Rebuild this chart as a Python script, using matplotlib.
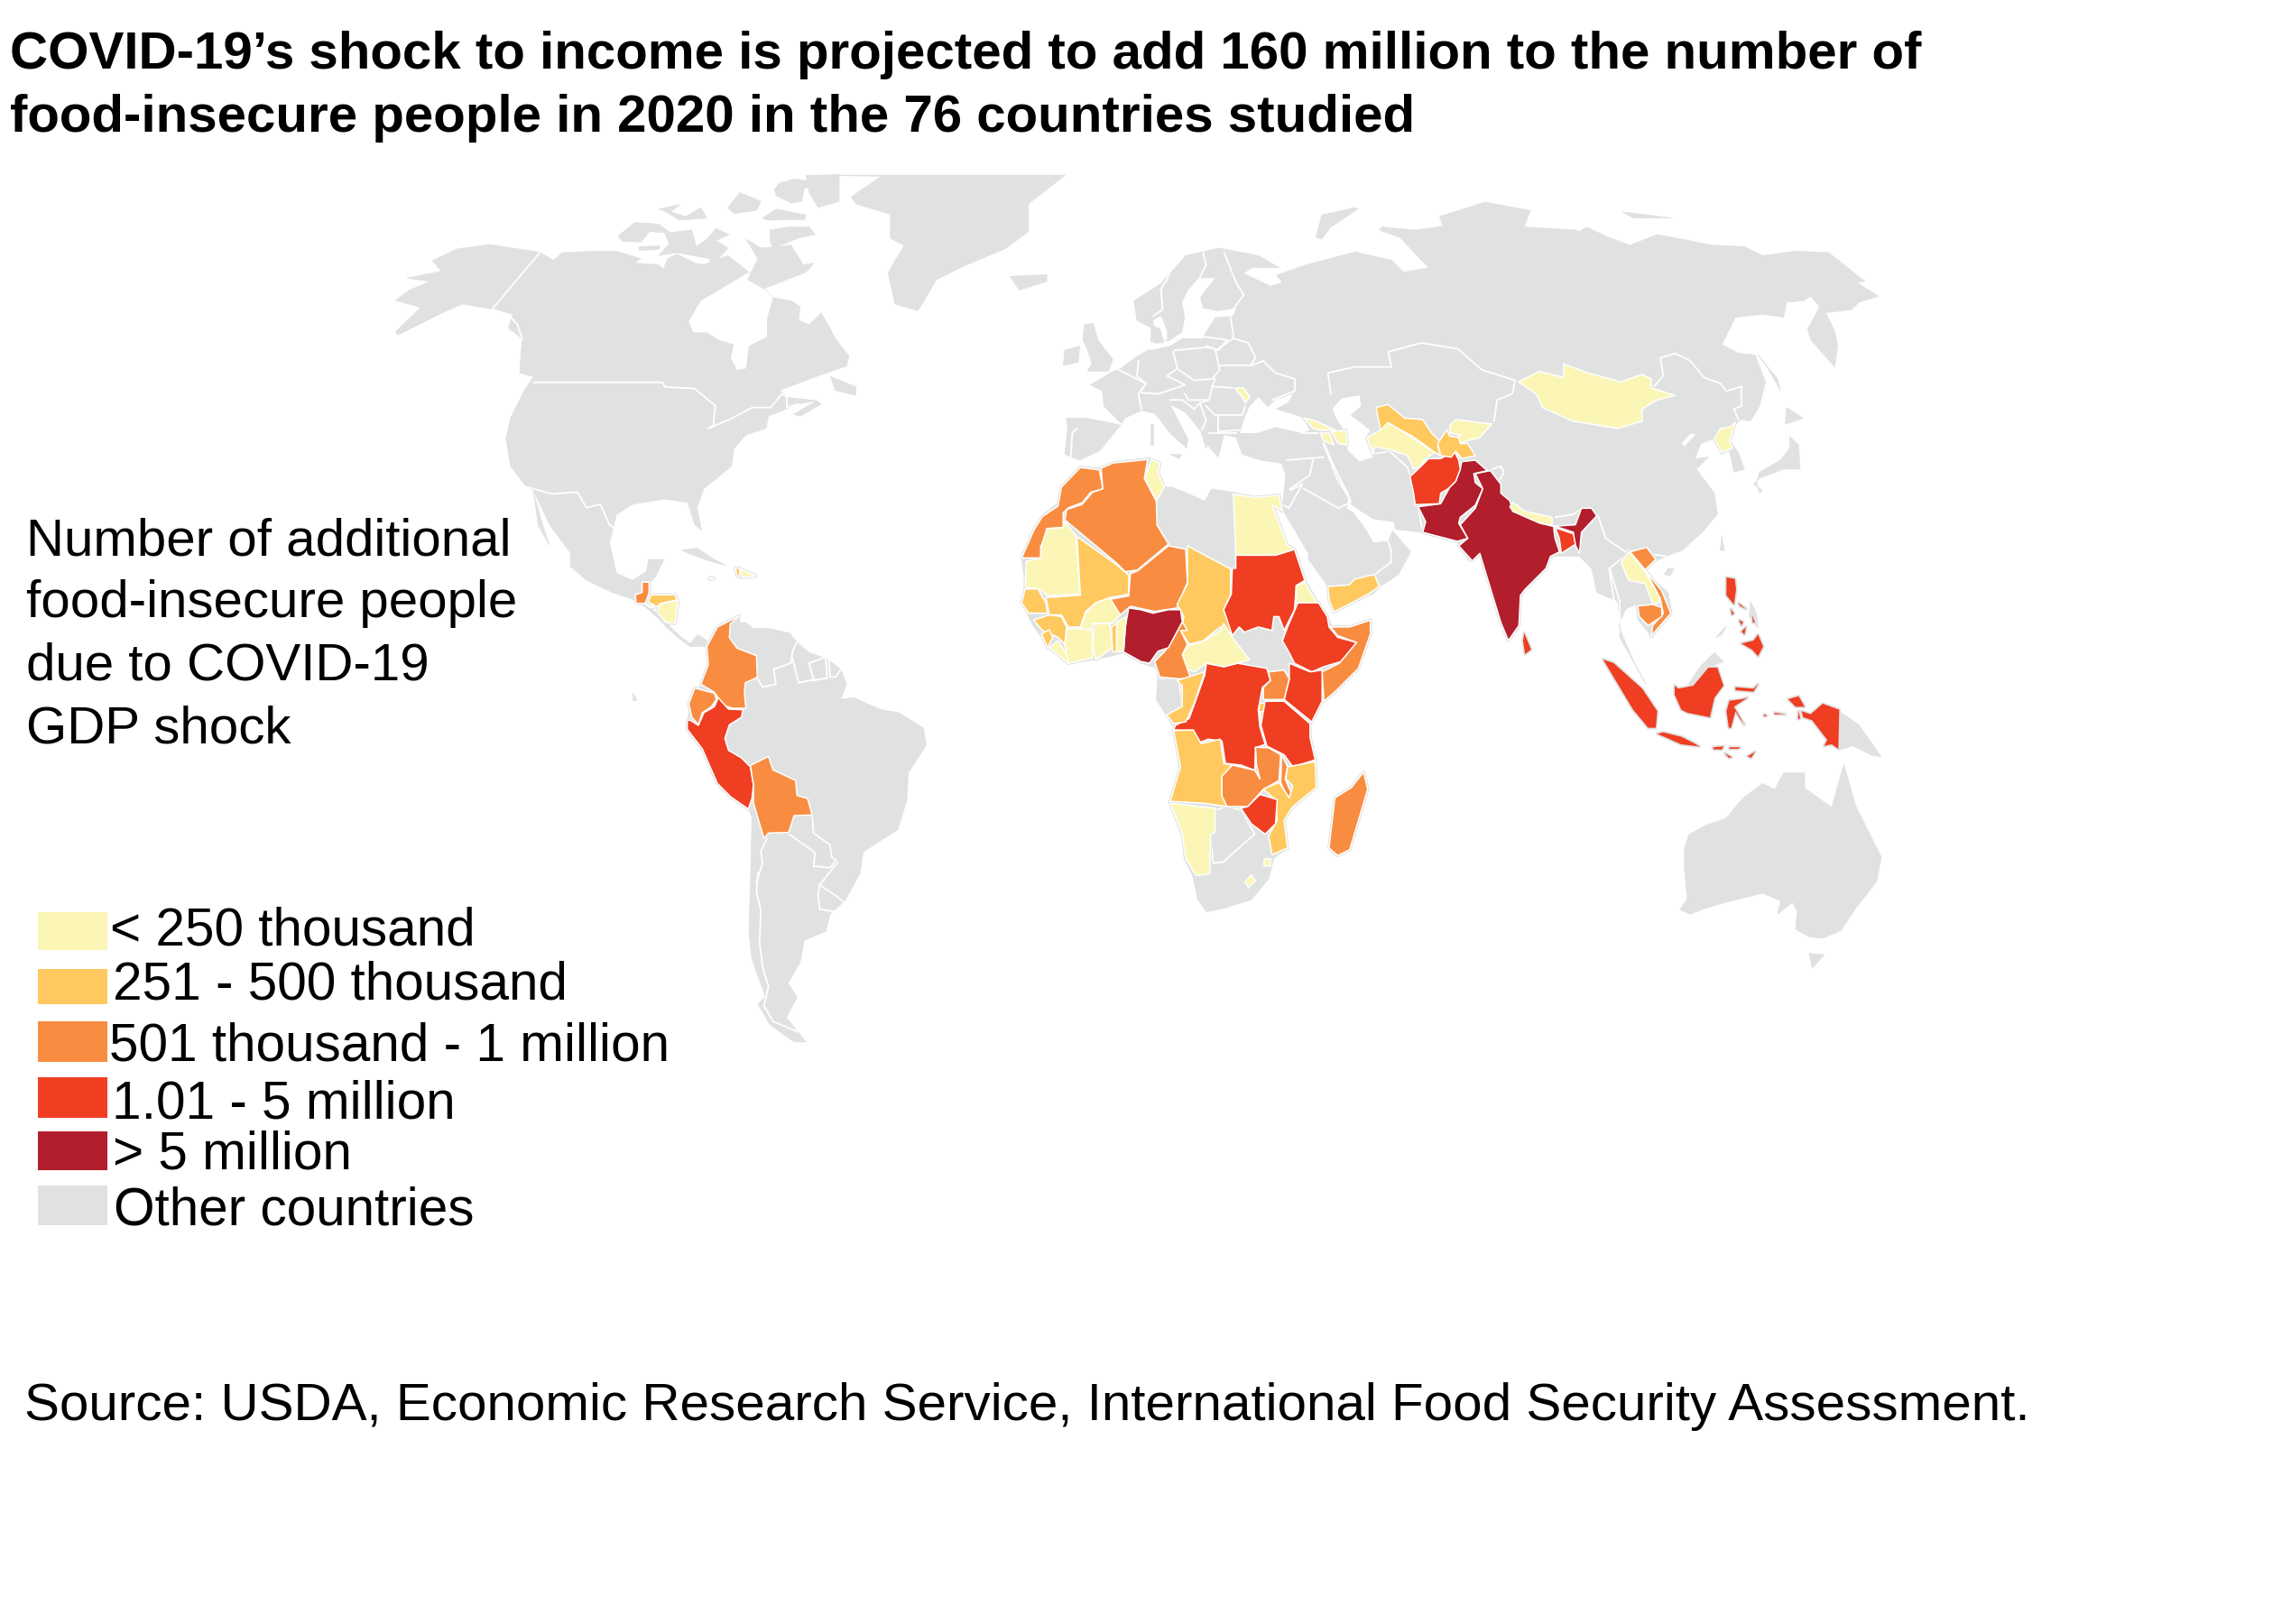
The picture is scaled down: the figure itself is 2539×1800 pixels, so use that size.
import matplotlib
matplotlib.use("Agg")
import matplotlib.pyplot as plt
from matplotlib.patches import Polygon, Rectangle

# ---------- text ----------
TITLE = ["COVID-19\u2019s shock to income is projected to add 160 million to the number of",
         "food-insecure people in 2020 in the 76 countries studied"]
SUBTITLE = ["Number of additional", "food-insecure people", "due to COVID-19", "GDP shock"]
SOURCE = "Source: USDA, Economic Research Service, International Food Security Assessment."
LEGEND_LABELS = ["< 250 thousand", "251 - 500 thousand", "501 thousand - 1 million",
                 "1.01 - 5 million", "> 5 million", "Other countries"]
COLORS = ["#FBF6B6", "#FFC95F", "#F88D41", "#EF3E22", "#B21E2B", "#E0E2E1"]
LEGEND_TOP = [1011, 1074, 1132, 1194, 1254, 1314]
LEGEND_BOTTOM = [1053, 1113, 1177, 1239, 1297, 1358]
LEGEND_BASE = [1047, 1108, 1176, 1240, 1295, 1358]
LEGEND_X = [122, 125, 121, 124, 125, 125.5]

# ---------- map sheets (origin x, origin y, scale x, scale y) ----------
A = (1050, 450, .3827, .3827)
S = (1400, 400, .4464, .3333)
N3 = (400, 180, .5102, .3827)
SM = (600, 600, .3333, .3827)
SP = (720, 680, 1/3, 1/3)
E = (1100, 180, .6696, .3333)
O = (1700, 600, 1/3, 1/3)
EU = (1150, 280, 1/3, 1/3)
FE = (1750, 180, 1/3, 1/3)
NA = (430, 180, 1/3, 1/3)
SA = (1450, 420, 1/3, 1/3)
Y, LO, OR, RD, DK = 0, 1, 2, 3, 4

# ---------- gray land ----------
NORTH_AMERICA = [
 (N3, [(75,400),(105,370),(150,345),(100,335),(175,315),(155,285),(210,250),(280,238),(388,260)]),
 (NA, [(550,325),(580,300),(690,295),(760,295),(840,320),(820,335),(900,340),(915,355),(930,320),(960,305),
       (1020,335),(1050,340),(1130,310),(1200,365),(1280,450),(1340,460),(1370,480),(1365,525),(1400,540),(1440,500),(1470,552)]),
 (N3, [(1030,510),(1060,560),(1055,590),(1000,615),(910,660),(925,680),(990,690),(950,700),(885,735),(880,770),(835,790),
       (810,830),(805,880),(745,945),(730,1000),(740,1065),(725,1050),(710,985),(660,975),(590,990),(555,1020),(540,1100),
       (555,1190),(590,1210),(620,1185),(625,1150),(658,1150),(640,1200),(610,1240),(600,1270),(545,1245),(490,1210),
       (455,1170),(455,1130),(410,1050),(375,950),(360,940),(325,880),(315,800),(325,740),(355,660),(375,620),(345,610),
       (350,510),(320,480),(330,440),(285,425),(220,410),(170,440),(80,500),(75,490),(130,420)]),
]
HUDSON_BAY = [(NA, [(1000,530),(1040,460),(1100,425),(1150,395),(1200,365),(1250,420),(1280,450),(1260,520),(1260,580),(1200,610),
                    (1190,685),(1160,690),(1140,650),(1150,605),(1100,590),(1060,565),(1015,565)])]
ARCTIC = [
 (NA, [(1190,255),(1240,285),(1340,275),(1380,340),(1415,335),(1390,365),(1300,400),(1250,420),(1195,390),(1230,320)]),
 (NA, [(765,245),(820,200),(900,205),(940,235),(870,230),(840,265),(780,262)]),
 (NA, [(920,235),(1010,225),(1025,280),(1060,255),(1090,220),(1135,240),(1090,260),(1130,285),(1090,330),(1075,355),(1070,320),(960,300),(900,310),(935,270)]),
 (NA, [(835,280),(905,278),(900,290),(835,292)]),
 (NA, [(1270,225),(1330,215),(1400,215),(1420,240),(1370,250),(1280,285),(1270,260)]),
 (NA, [(1285,90),(1300,70),(1350,55),(1390,60),(1455,60),(1445,80),(1385,85),(1375,130),(1340,135),(1290,110)]),
 (NA, [(1390,45),(1500,40),(1500,130),(1430,150),(1400,100)]),
 (NA, [(900,155),(970,140),(940,165),(990,180),(1040,150),(1060,185),(970,192),(925,165)]),
 (NA, [(1130,150),(1170,100),(1240,130),(1225,160),(1150,170)]),
 (NA, [(1245,185),(1290,155),(1390,175),(1385,190),(1260,192)]),
 (N3, [(1020,620),(1075,650),(1075,675),(1030,660)]),
 (N3, [(940,730),(990,690),(1000,700),(955,735)]),
 (N3, [(965,37),(1530,37),(1450,120),(1450,200),(1400,250),(1310,300),(1250,340),(1210,430),(1160,410),(1145,320),(1180,240),(1150,220),(1150,150),(1075,120),(1065,100),(1130,40)]),
 (N3, [(1410,330),(1490,325),(1490,345),(1430,370)]),
 (N3, [(375,955),(395,1050),(410,1110),(385,1050)]),
]
CENTRAL_AMERICA = [(SM, [(310,170),(330,140),(350,185),(395,215),(415,240)]),
                   (SP, [(60,35),(100,75),(135,100),(160,70),(190,90),(185,110),(135,110),(100,85),(55,45)]),
                   (SM, [(385,220),(345,190)])]
CUBA = [(SM, [(465,25),(520,20),(570,50),(615,70),(550,55),(490,35)])]
GALAPAGOS = [(SM, [(305,440),(318,460),(305,462)])]
SOUTH_AMERICA = [
 (SP, [(298,8),(300,30),(320,30),(345,50),(400,50),(465,65),(490,95),(530,130),(590,150),(635,185),(655,235),(635,285),(680,280),(700,290),(770,320),(830,330),(900,375)]),
 (SM, [(1270,540),(1280,590),(1220,670),(1215,750),(1185,835),(1140,860),(1070,900),(1060,960),(1010,1040),(960,1080),(945,1130),
       (875,1155),(860,1220),(820,1280),(850,1320),(815,1380),(880,1450),(840,1450),(760,1400),(720,1340),(745,1320),(700,1210),(690,1130),(695,990),(700,800)]),
 (SP, [(328,650),(270,610),(225,565),(175,450),(125,385),(125,355),(135,310),(170,235),(195,170),(190,110),(225,45)]),
]
AFRICA = [(A, [(385,175),(440,180),(470,165),(540,155),(585,150),(610,165),(615,205),(610,235),(650,235),(700,255),(745,275),(765,240),(830,250),
 (890,265),(960,260),(965,265),(940,290),(985,400),(1010,430),(1035,500),(1075,570),(1100,610),(1115,640),(1165,640),(1225,620),(1225,650),(1190,760),
 (1090,850),(1050,920),(1060,1020),(1065,1100),(1000,1160),(975,1200),(985,1280),(945,1310),(930,1370),(880,1430),(800,1455),(750,1465),(725,1430),
 (710,1360),(685,1310),(680,1240),(645,1150),(670,1050),(655,930),(605,850),(610,760),(560,745),(510,715),(430,735),(350,745),(295,700),(250,640),
 (215,570),(225,520),(215,440),(270,320),(320,280),(340,220)])]
EURASIA = [
 (EU, [(90,670),(100,580),(95,550),(170,550),(280,570),(220,510),(215,460),(175,440),(250,395),(270,390),(330,345),(375,320),(378,250),(330,225),(320,160),(400,110)]),
 (E, [(280,400),(320,310),(375,285),(440,310),(475,350),(430,350),(415,368),(460,412),(480,400),(470,375),(520,340),(600,298),(660,325),(680,365),(722,350),
      (700,305),(675,250),(640,225),(645,215),(700,225),(745,212),(740,180),(815,132),(890,160),(880,215),(965,225)]),
 (FE, [(0,230),(25,215),(100,250),(170,275),(260,240),(340,255),(440,275),(550,280),(610,310),(720,295),(830,300),(950,395),(925,400),(995,445),(930,465),(905,490),
       (820,500),(850,560),(860,610),(850,680),(770,590),(760,555),(800,480),(770,445),(745,460),(690,465),(680,515),(610,505),(520,515),(475,605),(530,635),(585,640),
       (620,730),(600,810),(570,860),(540,855),(520,870),(500,925),(530,965),(550,1020),(515,1030),(500,960),(475,965),(445,920),(405,935),(385,985),(345,950),(390,905),
       (370,900),(340,935),(385,985),(430,980),(390,1020),(450,1100),(460,1170)]),
 (S, [(1090,570),(1040,630),(1000,650),(975,665),(945,700),(1005,770),(1015,840),(965,920),(930,860),(925,810),(900,825),(885,870),(885,920),(950,1075),(920,1000),
      (885,890),(880,800),(828,770),(815,690),(785,650),(720,650),(640,770),(635,890),(610,930),(540,640),(510,665),(480,600),(395,570)]),
 (SA, [(290,500),(285,475),(215,465),(160,430),(135,410),(125,430),(150,445),(190,500),(215,545),(265,540),(280,505),(340,575),(300,650),(240,690),(215,715),(85,775),(65,690),(0,600)]),
 (EU, [(900,1000),(820,865),(815,830),(825,740),(810,700),(740,690),(680,670),(660,615),(620,605),(600,680),(565,640),(560,650),(540,590),(490,530),(440,505),(500,620),
       (495,650),(440,600),(390,535),(345,525),(290,550),(275,575),(230,630),(205,660),(140,690),(100,675)]),
]
SEAS = [
 (EU, [(370,320),(375,300),(395,290),(435,295),(480,265),(490,215),(480,165),(500,125),(535,85),(590,85),(565,115),(540,150),(550,185),(600,195),(660,185),(650,210),(590,215),(555,270),(550,285),(480,285),(440,310),(375,325)]),
 (EU, [(385,225),(410,210),(430,260),(430,290),(415,290),(410,260),(385,240)]),
 (EU, [(672,600),(690,545),(705,510),(735,480),(765,515),(790,490),(850,470),(830,500),(790,520),(880,548),(905,590),(880,600),(790,580),(730,600)]),
 (SA, [(80,100),(110,65),(170,55),(175,90),(140,120),(205,170),(190,200),(215,260),(170,275),(130,235),(125,180),(95,135)]),
]
ISLANDS = [
 (EU, [(385,250),(405,250),(420,300),(385,300)]),
 (EU, [(155,240),(185,235),(200,290),(250,355),(235,395),(165,395),(180,370),(165,320),(150,290)]),
 (EU, [(90,325),(140,310),(135,365),(85,375)]),
 (EU, [(376,570),(385,570),(385,640),(376,640)]),
 (EU, [(440,670),(480,672),(470,685)]),
 (E, [(545,175),(600,150),(605,155),(560,215),(545,255),(535,250)]),
 (FE, [(145,165),(230,175),(310,185),(180,185)]),
 (FE, [(690,815),(745,850),(720,860),(685,870)]),
 (FE, [(700,910),(730,940),(735,1020),(680,1020),(600,1050),(580,1070),(610,1090),(600,1100),(590,1065),(600,1030),(670,990),(700,950)]),
 (FE, [(595,640),(660,720),(670,760),(625,680)]),
 (S, [(1138,580),(1145,630),(1135,630)]),
 (S, [(1005,690),(1020,690),(1010,715),(995,710)]),
 (O, [(510,480),(550,420),(600,370),(630,400),(580,420),(530,480)]),
 (O, [(605,320),(640,280),(625,310)]),
 (O, [(1015,565),(1080,610),(1130,680),(1155,718),(1120,710),(1060,680),(1012,695)]),
 (O, [(500,1020),(515,975),(570,945),(640,920),(680,870),(700,850),(760,805),(800,825),(830,770),(900,770),(900,820),(990,885),(1030,740),(1070,880),(1120,980),(1155,1050),
      (1140,1130),(1070,1220),(1020,1295),(960,1320),(915,1315),(870,1290),(875,1230),(860,1200),(810,1240),(820,1195),(760,1170),(640,1200),(570,1220),(520,1240),(485,1225),(510,1190),(500,1090)]),
 (O, [(915,1370),(965,1375),(925,1420)]),
 (O, [(720,200),(740,240),(745,290),(715,250)]),
]

# ---------- white borders between gray countries ----------
BORDERS = [
 (N3, [(375,637),(655,637),(660,650),(725,655),(770,705),(765,765),(755,770),(800,745),(850,710),(890,710),(915,670),(925,680),(925,710),(950,700)]),
 (N3, [(388,262),(285,425),(320,440),(340,470),(350,510),(335,550)]),
 (N3, [(360,940),(415,960),(470,955),(490,1000),(520,990),(540,1050),(552,1060)]),
 (SP, [(358,215),(375,245),(420,235),(412,185),(470,165),(475,125),(490,95)]),
 (SP, [(475,150),(495,230),(545,220),(530,165),(585,145)]),
 (SP, [(585,145),(590,215),(545,222)]),
 (SP, [(595,150),(600,212),(620,210),(635,185)]),
 (SP, [(540,670),(545,730),(600,770),(605,810),(620,820),(600,845),(545,840),(550,795),(465,735)]),
 (SP, [(390,748),(370,790),(375,830),(355,895)]),
 (SM, [(985,930),(925,995),(985,1030),(1005,1045),(990,1075),(925,1065),(920,1020),(925,995)]),
 (SM, [(720,960),(715,1015),(730,1070),(725,1160),(735,1230),(755,1290),(740,1345),(770,1390),(850,1420)]),
 (A, [(775,1170),(810,1160),(850,1170),(890,1240),(855,1270),(800,1320),(770,1325),(762,1240)]),
 (A, [(615,790),(670,790),(680,870),(640,895)]),
 (EU, [(130,585),(115,600),(110,680)]),
 (EU, [(170,548),(280,570)]),
 (EU, [(270,390),(330,420),(360,435),(335,470),(345,520)]),
 (EU, [(335,360),(330,410),(360,435),(340,465),(400,470),(490,440),(430,410),(465,385),(450,330)]),
 (EU, [(455,325),(560,315),(590,320),(605,390),(580,420),(520,425),(470,390)]),
 (EU, [(555,280),(630,290),(600,325),(560,310)]),
 (EU, [(605,375),(710,375),(750,360),(790,400),(855,420),(855,460),(780,490)]),
 (EU, [(590,420),(580,445),(655,450),(705,480)]),
 (EU, [(600,320),(650,285),(700,300),(725,350),(710,370)]),
 (EU, [(620,0),(660,100),(685,140),(645,195)]),
 (EU, [(410,120),(415,190),(385,210)]),
 (EU, [(550,0),(560,40),(540,80)]),
 (EU, [(450,30),(430,90),(410,120)]),
 (EU, [(640,210),(650,270),(650,285)]),
 (EU, [(490,470),(500,490),(570,490),(580,450)]),
 (EU, [(560,510),(590,540),(680,540),(690,510)]),
 (EU, [(600,545),(600,595),(670,590)]),
 (EU, [(540,500),(560,560),(545,590)]),
 (EU, [(440,490),(480,490),(520,520),(540,500),(570,490)]),
 (EU, [(570,600),(660,600)]),
 (EU, [(880,600),(960,600)]),
 (EU, [(830,690),(950,680)]),
 (EU, [(915,690),(905,740),(840,785)]),
 (EU, [(885,785),(1000,850),(1040,830)]),
 (EU, [(950,630),(985,710),(1030,800),(1040,825)]),
 (EU, [(840,790),(880,770),(835,850),(820,840)]),
 (SA, [(50,215),(95,330),(135,395),(135,410)]),
 (SA, [(215,250),(270,240),(330,295),(340,325)]),
 (SA, [(365,425),(380,510)]),
 (SA, [(240,690),(220,650),(275,610),(275,570),(265,540)]),
 (E, [(560,770),(555,700),(600,680),(660,680),(655,630),(710,600),(770,620),(810,690),(865,725),(860,770),(835,790),(830,860)]),
 (FE, [(245,750),(280,710),(270,650),(320,635),(370,660),(415,715),(470,735),(490,760),(540,745),(540,810),(515,820),(530,855)]),
 (SA, [(610,300),(640,290),(650,310),(635,340)]),
 (S, [(830,510),(850,590),(905,640),(860,690),(885,800),(885,870)]),
 (S, [(905,630),(1000,650)]),
 (S, [(725,520),(770,510),(790,490)]),
 (O, [(250,90),(265,190),(290,270)]),
]

# ---------- countries of the study, by class ----------
COUNTRIES = [
 (OR, A, [(385,178),(440,185),(450,240),(415,250),(390,280),(350,295),(335,310),(335,352),(288,355),(285,395),(270,405),(270,440),(215,440),(250,360),(275,320),(320,290),(330,235)]),
 (OR, A, [(445,180),(480,165),(580,155),(570,210),(605,275),(607,345),(640,400),(550,475),(515,480),(490,455),(340,330),(345,300),(390,285),(420,250),(450,240)]),
 (Y, A, [(590,155),(615,165),(610,195),(628,235),(605,275),(572,210)]),
 (Y, A, [(340,335),(372,375),(385,545),(290,550),(265,530),(225,525),(228,450),(270,440),(272,405),(288,355),(335,352)]),
 (LO, A, [(375,378),(490,460),(525,490),(525,545),(470,555),(430,570),(400,595),(385,640),(350,640),(330,605),(295,605),(285,555),(385,548)]),
 (OR, A, [(530,485),(550,478),(640,405),(690,415),(695,510),(665,585),(600,595),(530,580),(500,605),(470,560),(525,550)]),
 (LO, A, [(695,405),(820,472),(820,545),(800,590),(825,660),(790,640),(740,680),(700,690),(675,650),(685,610),(665,575),(695,515)]),
 (RD, A, [(835,432),(950,432),(1005,415),(1035,505),(1010,520),(1005,590),(975,650),(960,610),(945,610),(940,650),(900,640),(860,655),(845,640),(825,665),(800,590),(822,545),(825,470),(835,470)]),
 (Y, A, [(828,255),(890,265),(960,258),(970,305),(940,285),(985,405),(1005,415),(950,432),(835,432)]),
 (Y, A, [(1035,510),(1070,570),(1010,570),(1010,520)]),
 (RD, A, [(1015,570),(1075,570),(1100,610),(1105,640),(1130,670),(1185,685),(1140,740),(1090,755),(1055,770),(1005,745),(990,715),(970,680),(985,640)]),
 (OR, A, [(1110,640),(1165,640),(1225,620),(1225,660),(1190,760),(1120,830),(1090,855),(1085,770),(1135,745),(1185,685),(1130,665)]),
 (RD, A, [(990,745),(1050,770),(1085,765),(1085,855),(1055,915),(975,850),(990,790)]),
 (OR, A, [(930,770),(975,765),(990,790),(975,850),(915,850),(915,815),(935,795)]),
 (LO, A, [(905,860),(930,860),(925,885),(900,885)]),
 (LO, A, [(905,885),(925,895),(910,915)]),
 (RD, A, [(920,855),(975,855),(1050,920),(1050,960),(1065,1025),(1000,1045),(975,1010),(925,985),(908,925)]),
 (RD, A, [(750,745),(800,755),(840,745),(925,760),(935,795),(912,815),(900,880),(905,930),(920,980),(892,990),(890,1055),(850,1040),(805,1035),(795,970),(755,965),(730,975),(710,940),(655,938),(660,925),(700,905),(720,850),(745,780)]),
 (Y, A, [(800,630),(825,670),(875,735),(840,745),(800,755),(750,745),(715,770),(690,760),(680,720),(695,695),(745,680),(790,650)]),
 (OR, A, [(680,625),(695,650),(675,650),(695,690),(680,720),(705,790),(670,790),(615,785),(600,740),(630,710),(650,680)]),
 (DK, A, [(525,585),(560,590),(595,600),(640,590),(675,590),(680,625),(640,700),(610,710),(585,745),(560,740),(510,712),(515,640)]),
 (LO, A, [(475,640),(490,630),(490,712),(478,712)]),
 (Y, A, [(490,625),(518,610),(510,710),(490,712)]),
 (Y, A, [(425,630),(470,630),(478,700),(430,735),(420,700)]),
 (Y, A, [(400,600),(430,570),(470,555),(500,605),(480,628),(420,630),(415,650),(385,645)]),
 (Y, A, [(345,645),(385,645),(420,650),(420,730),(350,745),(340,695)]),
 (Y, A, [(295,700),(320,680),(345,720),(350,745)]),
 (LO, A, [(250,620),(295,605),(330,610),(345,640),(340,690),(320,670),(275,650)]),
 (LO, A, [(272,660),(295,648),(305,670),(290,700)]),
 (LO, A, [(215,570),(225,530),(262,530),(285,570),(290,600),(235,600)]),
 (LO, A, [(665,795),(745,770),(715,860),(690,915),(655,920),(635,895),(680,870),(680,810)]),
 (LO, A, [(655,940),(712,938),(735,978),(790,965),(800,1035),(825,1040),(795,1075),(795,1130),(810,1160),(740,1150),(645,1145),(675,1045)]),
 (OR, A, [(892,988),(930,990),(965,1010),(960,1085),(915,1110),(870,1160),(810,1160),(795,1130),(795,1072),(825,1040),(890,1055),(905,1080),(895,1040)]),
 (OR, A, [(968,1010),(985,1045),(978,1080),(1000,1130),(985,1135),(965,1090)]),
 (LO, A, [(985,1045),(1065,1030),(1068,1105),(1000,1160),(975,1200),(985,1280),(940,1300),(930,1245),(955,1200),(950,1140),(915,1110),(960,1090),(990,1135),(1000,1100),(980,1080)]),
 (RD, A, [(905,1125),(955,1140),(950,1210),(920,1240),(880,1210),(850,1165),(870,1160)]),
 (Y, A, [(645,1150),(775,1165),(775,1235),(762,1240),(760,1355),(720,1360),(690,1310),(680,1240)]),
 (Y, A, [(918,1312),(935,1312),(935,1332),(918,1332)]),
 (Y, A, [(862,1378),(880,1358),(892,1375),(872,1395)]),
 (OR, A, [(1205,1060),(1217,1110),(1165,1285),(1130,1302),(1105,1280),(1122,1135),(1170,1105)]),
 # Central and South America
 (OR, SM, [(335,118),(358,118),(358,150),(345,180),(315,180),(312,155),(335,148)]),
 (LO, SM, [(365,155),(445,155),(450,170),(395,180),(385,190),(355,175)]),
 (Y, SM, [(345,180),(378,190),(360,192)]),
 (Y, SM, [(395,182),(455,170),(445,238),(415,235),(385,205)]),
 (LO, SM, [(645,78),(660,78),(658,103),(650,100)]),
 (Y, SM, [(662,80),(715,100),(668,105)]),
 (Y, SM, [(560,105),(575,108),(560,110)]),
 (OR, SP, [(298,8),(268,35),(265,80),(290,115),(355,140),(358,212),(318,230),(315,265),(320,315),(275,315),(245,305),(215,262),(170,235),(195,170),(190,110),(225,45)]),
 (OR, SP, [(150,248),(215,265),(222,285),(205,310),(175,330),(162,370),(140,345),(130,300)]),
 (RD, SP, [(228,280),(262,318),(310,320),(305,345),(265,370),(250,415),(262,455),(305,480),(335,510),(345,570),(340,615),(328,650),(270,610),(225,565),(175,450),(125,385),(125,355),(135,355),(162,372),(180,330),(215,310)]),
 (OR, SP, [(335,505),(395,475),(410,520),(485,555),(490,605),(525,615),(540,670),(480,672),(462,728),(395,730),(380,748),(345,630),(345,570)]),
 # Asia
 (DK, SA, [(510,275),(555,270),(595,305),(550,315),(555,345),(580,365),(555,420),(505,460),(500,480),(530,530),(495,540),(380,510),(390,475),(365,425),(440,415),(470,360),(490,340),(505,300)]),
 (DK, SA, [(555,315),(605,305),(640,350),(640,380),(670,405),(680,440),(770,480),(815,490),(820,530),(835,575),(805,590),(790,630),(720,700),(705,720),(700,820),(665,870),(640,810),(570,580),(545,605),(500,555),(530,530),(505,485),(555,430),(580,365)]),
 (DK, S, [(720,550),(775,545),(790,490),(815,490),(828,515),(790,570),(785,640),(770,600),(770,570),(725,550)]),
 (RD, S, [(725,555),(770,575),(775,610),(740,640),(735,590)]),
 (Y, SA, [(680,410),(720,440),(810,460),(810,488),(760,475),(680,440),(670,425)]),
 (RD, SA, [(400,265),(440,265),(485,240),(500,270),(505,300),(490,340),(465,365),(440,380),(435,415),(355,418),(350,380),(338,325),(370,295)]),
 (Y, SA, [(195,195),(240,170),(260,145),(290,160),(345,195),(420,245),(395,260),(370,290),(350,300),(330,255),(270,235),(220,225),(215,250)]),
 (LO, SA, [(225,95),(265,85),(320,130),(380,135),(410,180),(440,210),(430,225),(440,255),(415,240),(345,190),(290,160),(265,145),(240,170)]),
 (Y, SA, [(470,155),(490,135),(610,150),(570,195),(530,205),(505,215),(480,205),(505,185),(470,180)]),
 (LO, SA, [(430,215),(460,170),(470,190),(500,195),(505,215),(530,215),(555,255),(510,265),(490,240),(475,260),(440,255)]),
 (Y, EU, [(885,550),(925,560),(990,590),(940,590),(915,585)]),
 (Y, EU, [(940,600),(970,600),(985,640),(950,625)]),
 (Y, EU, [(975,595),(1025,590),(1030,640),(1000,635)]),
 (Y, EU, [(655,450),(685,450),(705,480),(690,500),(680,480)]),
 (LO, SA, [(65,690),(135,685),(155,665),(220,650),(235,690),(200,715),(85,775),(70,740)]),
 (Y, E, [(870,730),(905,695),(945,715),(945,670),(985,700),(1040,730),(1075,705),(1090,720),(1090,750),(1130,775),(1100,790),(1075,820),(1075,860),(1035,885),(960,860),(910,815),(900,770)]),
 (Y, FE, [(520,865),(500,925),(510,950),(475,965),(450,920),(470,885),(500,880)]),
 (Y, O, [(315,35),(370,100),(420,190),(415,205),(395,210),(370,140),(315,130),(290,70)]),
 (OR, O, [(320,35),(375,20),(405,60),(370,95)]),
 (OR, O, [(370,95),(385,115),(425,165),(455,240),(420,280),(390,315),(395,280),(430,240),(420,190)]),
 (OR, O, [(345,215),(395,210),(425,220),(425,250),(380,280),(350,250)]),
]
COUNTRY_ISLANDS = [
 (RD, S, [(648,905),(665,960),(650,975),(645,930)]),
 (RD, O, [(230,393),(265,405),(360,490),(410,565),(405,620),(380,620),(330,560),(270,460)]),
 (RD, O, [(410,640),(430,635),(490,650),(530,670),(550,682),(490,675)]),
 (RD, O, [(595,685),(630,682),(625,692),(598,692)]),
 (RD, O, [(650,685),(685,685),(680,690),(650,690)]),
 (RD, O, [(635,705),(658,718),(648,720)]),
 (RD, O, [(710,715),(735,700),(722,720)]),
 (RD, O, [(468,480),(480,490),(530,480),(580,420),(610,420),(630,480),(600,520),(585,585),(510,570),(490,560),(468,510)]),
 (RD, O, [(650,530),(690,525),(710,520),(665,550),(700,610),(685,590),(670,565),(655,620),(648,620),(640,565)]),
 (RD, O, [(670,485),(730,490),(745,475),(730,500),(670,495)]),
 (RD, O, [(890,565),(920,575),(960,540),(1015,560),(1012,690),(990,675),(965,680),(975,660),(925,595),(895,585)]),
 (RD, O, [(845,525),(880,515),(900,550),(870,550)]),
 (RD, O, [(765,575),(775,580),(765,582)]),
 (RD, O, [(800,570),(835,575),(800,575)]),
 (RD, O, [(880,565),(885,590),(878,590)]),
 (RD, O, [(640,120),(668,125),(672,160),(665,210),(640,180)]),
 (RD, O, [(655,225),(665,240),(658,245)]),
 (RD, O, [(682,262),(695,268),(690,280)]),
 (RD, O, [(690,300),(705,285),(700,310)]),
 (RD, O, [(680,205),(705,225),(685,215)]),
 (RD, O, [(725,245),(735,270),(728,270)]),
 (RD, O, [(745,310),(762,350),(745,382),(725,360),(690,340),(730,330)]),
]

W, H = 2539, 1800
LAND_GRAY = COLORS[5]


def to_px(segments):
    out = []
    for (ox, oy, sx, sy), pts in segments:
        out += [(ox + x * sx, oy + y * sy) for x, y in pts]
    return out


fig = plt.figure(figsize=(W / 100, H / 100), dpi=100, facecolor="white")
ax = fig.add_axes([0, 0, 1, 1])
ax.set_xlim(0, W)
ax.set_ylim(H, 0)
ax.axis("off")

for shape in [NORTH_AMERICA, CENTRAL_AMERICA, SOUTH_AMERICA, AFRICA, EURASIA, CUBA, GALAPAGOS]:
    ax.add_patch(Polygon(to_px(shape), closed=True, fc=LAND_GRAY, ec=LAND_GRAY, lw=.5, zorder=1))
for seg in HUDSON_BAY + SEAS:
    ax.add_patch(Polygon(to_px([seg]), closed=True, fc="white", ec="none", zorder=2))
for seg in ARCTIC + ISLANDS:
    ax.add_patch(Polygon(to_px([seg]), closed=True, fc=LAND_GRAY, ec=LAND_GRAY, lw=.5, zorder=3))
for seg in BORDERS:
    xy = to_px([seg])
    ax.plot([p[0] for p in xy], [p[1] for p in xy], color="white", lw=1.3, solid_joinstyle="round", zorder=4)
# pale gray halo along the coasts of the coloured countries
for k, view, pts in COUNTRIES + COUNTRY_ISLANDS:
    ax.add_patch(Polygon(to_px([(view, pts)]), closed=True, fc=COLORS[k], ec=LAND_GRAY, lw=2.6, joinstyle="round", zorder=5))
for k, view, pts in COUNTRY_ISLANDS:
    ax.add_patch(Polygon(to_px([(view, pts)]), closed=True, fc=COLORS[k], ec="none", zorder=5.5))
for k, view, pts in COUNTRIES:
    ax.add_patch(Polygon(to_px([(view, pts)]), closed=True, fc=COLORS[k], ec="white", lw=1.1, joinstyle="round", zorder=6))

FONT = "Liberation Sans"
renderer = fig.canvas.get_renderer()


def fitted(txt, width, **kw):
    t = ax.text(0, 0, txt, fontfamily=FONT, fontsize=30, **kw)
    size = 30 * width / t.get_window_extent(renderer).width
    t.remove()
    return size


title_fs = fitted(TITLE[0], 2120, fontweight="bold")
ax.text(11, 76, TITLE[0], fontfamily=FONT, fontweight="bold", fontsize=title_fs, va="baseline", color="black")
ax.text(11, 146, TITLE[1], fontfamily=FONT, fontweight="bold", fontsize=title_fs, va="baseline", color="black")

sub_fs = fitted(SUBTITLE[0], 536)
for txt, base in zip(SUBTITLE, [615, 684, 754, 823]):
    ax.text(29, base, txt, fontfamily=FONT, fontsize=sub_fs, va="baseline", color="black")

leg_fs = fitted(LEGEND_LABELS[2], 620)
for i, lab in enumerate(LEGEND_LABELS):
    ax.add_patch(Rectangle((42, LEGEND_TOP[i]), 77, LEGEND_BOTTOM[i] - LEGEND_TOP[i], fc=COLORS[i], ec="none", zorder=7))
    ax.text(LEGEND_X[i], LEGEND_BASE[i], lab, fontfamily=FONT, fontsize=leg_fs, va="baseline", color="black")

src_fs = fitted(SOURCE, 2218)
ax.text(27, 1574, SOURCE, fontfamily=FONT, fontsize=src_fs, va="baseline", color="black")

fig.savefig("out.png", dpi=100, facecolor="white")
